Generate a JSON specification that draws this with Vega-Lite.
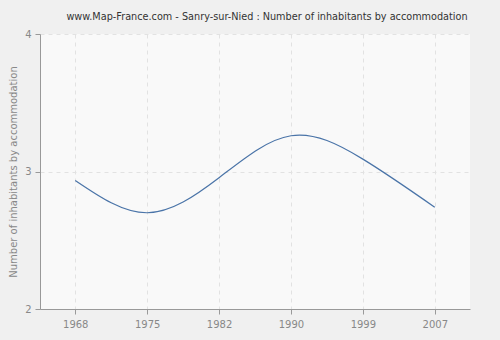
{
  "$schema": "https://vega.github.io/schema/vega-lite/v6.json",
  "autosize": "none",
  "width": 430,
  "height": 275,
  "padding": {"left": 40, "top": 34, "right": 30, "bottom": 31},
  "background": "#f0f0f0",
  "title": {
    "text": "www.Map-France.com - Sanry-sur-Nied : Number of inhabitants by accommodation",
    "font": "DejaVu Sans",
    "fontSize": 9.7,
    "fontWeight": "normal",
    "color": "#333333",
    "anchor": "middle",
    "dx": 12,
    "offset": 7
  },
  "config": {
    "view": {"fill": "#f9f9f9", "stroke": null}
  },
  "data": {
    "values": [
      {"year": "1968", "value": 2.935},
      {"year": "1975", "value": 2.70},
      {"year": "1982", "value": 2.955},
      {"year": "1990", "value": 3.26},
      {"year": "1999", "value": 3.09},
      {"year": "2007", "value": 2.74}
    ]
  },
  "mark": {"type": "line", "interpolate": "natural", "color": "#4a74a8", "strokeWidth": 1.2},
  "encoding": {
    "x": {
      "field": "year",
      "type": "ordinal",
      "scale": {"type": "point", "padding": 0.49},
      "axis": {
        "title": null,
        "labelAngle": 0,
        "labelFont": "DejaVu Sans",
        "labelFontSize": 10,
        "labelColor": "#888888",
        "labelPadding": 5,
        "domainColor": "#999999",
        "tickColor": "#999999",
        "tickSize": 5,
        "grid": true,
        "gridColor": "#e2e2e2",
        "gridDash": [4, 4]
      }
    },
    "y": {
      "field": "value",
      "type": "quantitative",
      "scale": {"domain": [2, 4], "nice": false},
      "axis": {
        "values": [2, 3, 4],
        "format": ".0f",
        "title": "Number of inhabitants by accommodation",
        "titleFont": "DejaVu Sans",
        "titleFontSize": 10,
        "titleFontWeight": "normal",
        "titleColor": "#888888",
        "titlePadding": 6,
        "labelFont": "DejaVu Sans",
        "labelFontSize": 10,
        "labelColor": "#888888",
        "labelPadding": 4,
        "domainColor": "#999999",
        "tickColor": "#999999",
        "tickSize": 5,
        "grid": true,
        "gridColor": "#e2e2e2",
        "gridDash": [4, 4]
      }
    }
  }
}
